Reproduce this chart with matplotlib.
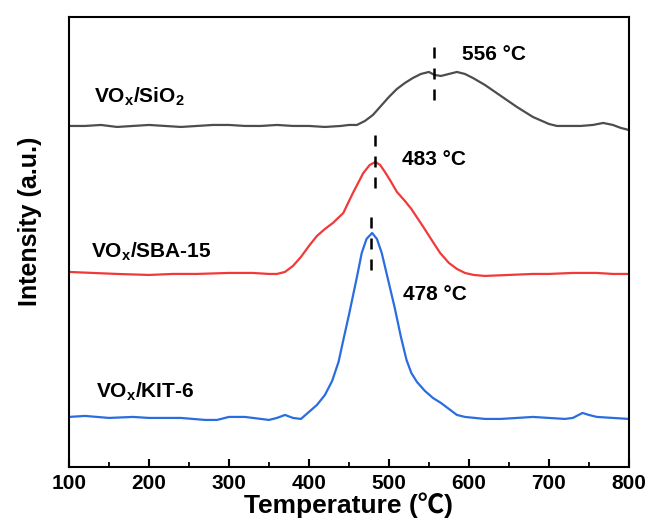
import matplotlib
matplotlib.use("Agg")
import matplotlib.pyplot as plt
from matplotlib.ticker import MultipleLocator

plt.rcParams['font.family'] = ['Liberation Sans', 'DejaVu Sans']
plt.rcParams['font.weight'] = 'bold'

# ---- data (arbitrary intensity units, curves stacked) ----
T_sio2 = [100,120,140,160,180,200,220,240,260,280,300,320,340,360,380,400,420,440,450,460,
          470,480,490,500,510,520,530,540,550,557,565,575,585,595,605,620,640,660,680,700,
          710,720,740,755,768,780,790,800]
I_sio2 = [341,341,342,340,341,342,341,340,341,342,342,341,341,342,341,341,340,341,342,342,
          346,352,361,370,378,384,389,393,395,392,391,393,395,393,389,382,371,360,350,343,
          341,341,341,342,344,342,339,337]

T_sba = [100,130,160,200,230,260,300,330,350,360,370,380,390,400,410,420,430,443,455,468,
         476,483,489,495,502,510,520,528,543,555,564,575,585,595,606,620,650,680,700,730,760,780,800]
I_sba = [195,194,193,192,193,193,194,194,193,193,195,201,210,221,231,238,244,254,274,294,
         302,305,302,295,286,275,266,258,240,225,214,204,198,194,192,191,192,193,193,194,194,193,193]

T_kit = [100,120,150,180,200,240,270,285,300,320,340,350,360,370,380,390,400,410,420,429,
         437,443,450,455,460,466,472,479,485,491,499,507,515,522,528,535,545,555,565,575,585,595,
         620,640,660,680,700,720,730,742,750,760,780,800]
I_kit = [50,51,49,50,49,49,47,47,50,50,48,47,49,52,49,48,55,62,72,86,
         105,127,152,171,190,214,228,234,228,214,187,160,130,107,94,85,76,69,64,58,52,50,
         48,48,49,50,49,48,49,54,52,50,49,48]

labels = ['VO$_\\mathregular{x}$/SiO$_\\mathregular{2}$',
          'VO$_\\mathregular{x}$/SBA-15',
          'VO$_\\mathregular{x}$/KIT-6']
label_pos = [(131, 370), (127, 215), (134, 75)]

peaks = [556, 483, 478]
peak_text = ['556 °C', '483 °C', '478 °C']
peak_line_span = [(367, 420), (279, 332), (194, 250)]
peak_text_pos = [(591, 412), (516, 307), (517, 172)]

colors = ['#4d4d4d', '#f03a3a', '#2a6de0']

fig = plt.figure(figsize=(6.51, 5.30), dpi=100)
ax = fig.add_axes([0.106, 0.119, 0.860, 0.849])

for T, I, c in zip([T_sio2, T_sba, T_kit], [I_sio2, I_sba, I_kit], colors):
    ax.plot(T, I, color=c, lw=1.6, solid_joinstyle='round')

for p, (y0, y1) in zip(peaks, peak_line_span):
    ax.plot([p, p], [y1, y0], color='black', lw=1.8, linestyle=(0, (4.4, 4.0)))

for txt, (x, y) in zip(peak_text, peak_text_pos):
    ax.text(x, y, txt, fontsize=15, fontweight='bold', va='center', ha='left')

for txt, (x, y) in zip(labels, label_pos):
    ax.text(x, y, txt, fontsize=15, fontweight='bold', va='center', ha='left')

ax.set_xlim(100, 800)
ax.set_ylim(0, 450)
ax.set_yticks([])
ax.xaxis.set_major_locator(MultipleLocator(100))
ax.xaxis.set_minor_locator(MultipleLocator(50))
ax.tick_params(axis='x', which='major', direction='in', length=6, width=1.5,
               labelsize=15, pad=5)
ax.tick_params(axis='x', which='minor', direction='in', length=3.5, width=1.3)
for lab in ax.get_xticklabels():
    lab.set_fontweight('bold')
for s in ax.spines.values():
    s.set_linewidth(1.5)

ax.set_xlabel('Temperature (℃)', fontsize=19, fontweight='bold', labelpad=0,
              family=['Liberation Sans', 'Noto Sans CJK SC', 'DejaVu Sans'])
ax.set_ylabel('Intensity (a.u.)', fontsize=18, fontweight='bold')
ax.yaxis.set_label_coords(-0.048, 0.545)

fig.savefig('out.png', dpi=100)
